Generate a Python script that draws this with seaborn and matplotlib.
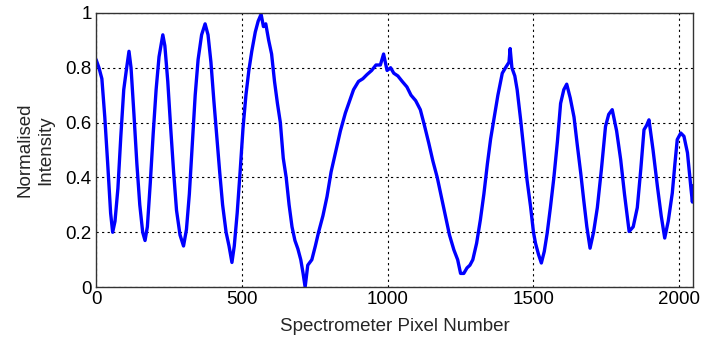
import numpy as np
import pandas as pd
import matplotlib
matplotlib.use('Agg')
import matplotlib.pyplot as plt
import seaborn as sns

# values
pixel = [0, 10, 20, 30, 40, 50, 57, 65, 75, 85, 95, 105, 113, 120, 130, 140, 150, 160, 168, 176,
         186, 196, 206, 216, 229, 236, 246, 256, 266, 276, 288, 300, 310, 320, 330, 340, 350, 362, 374, 384,
         394, 404, 414, 424, 434, 446, 456, 466, 474, 484, 494, 504, 514, 524, 534, 546, 556, 566, 574, 582,
         592, 602, 612, 622, 632, 642, 652, 662, 672, 682, 692, 702, 710, 717, 726, 740, 752, 763, 778, 792,
         806, 821, 838, 855, 870, 883, 900, 915, 929, 945, 960, 975, 986, 998, 1010, 1021, 1035, 1050, 1066, 1080,
         1096, 1112, 1126, 1141, 1155, 1170, 1184, 1198, 1212, 1227, 1240, 1250, 1261, 1272, 1282, 1292, 1305, 1318, 1330, 1342,
         1353, 1364, 1378, 1393, 1404, 1416, 1420, 1426, 1436, 1444, 1456, 1467, 1478, 1490, 1500, 1507, 1517, 1527, 1537, 1547,
         1558, 1570, 1582, 1593, 1604, 1614, 1626, 1639, 1650, 1662, 1672, 1683, 1694, 1706, 1719, 1733, 1747, 1758, 1770, 1785,
         1799, 1812, 1828, 1842, 1856, 1868, 1879, 1888, 1896, 1910, 1925, 1938, 1950, 1962, 1976, 1985, 1993, 2005, 2016, 2028,
         2040, 2045, 2048]
intensity = [0.83, 0.80, 0.76, 0.62, 0.45, 0.27, 0.20, 0.24, 0.36, 0.55, 0.72, 0.80, 0.86, 0.80, 0.63, 0.45, 0.30, 0.20, 0.17, 0.22,
             0.38, 0.56, 0.72, 0.84, 0.92, 0.88, 0.75, 0.58, 0.42, 0.28, 0.19, 0.15, 0.21, 0.34, 0.52, 0.70, 0.83, 0.92, 0.96, 0.92,
             0.82, 0.68, 0.55, 0.42, 0.30, 0.20, 0.15, 0.09, 0.15, 0.27, 0.42, 0.58, 0.70, 0.79, 0.86, 0.93, 0.97, 0.995, 0.95, 0.96,
             0.90, 0.85, 0.75, 0.67, 0.60, 0.47, 0.40, 0.30, 0.22, 0.17, 0.14, 0.10, 0.05, 0.00, 0.08, 0.10, 0.15, 0.20, 0.26, 0.33,
             0.42, 0.49, 0.57, 0.635, 0.68, 0.72, 0.75, 0.76, 0.775, 0.79, 0.81, 0.81, 0.85, 0.79, 0.80, 0.78, 0.77, 0.75, 0.73, 0.70,
             0.68, 0.647, 0.59, 0.525, 0.46, 0.40, 0.33, 0.26, 0.19, 0.136, 0.10, 0.05, 0.05, 0.07, 0.08, 0.10, 0.16, 0.246, 0.34, 0.45,
             0.54, 0.61, 0.70, 0.78, 0.80, 0.82, 0.87, 0.80, 0.77, 0.72, 0.61, 0.50, 0.39, 0.294, 0.20, 0.16, 0.12, 0.088, 0.13, 0.197,
             0.29, 0.40, 0.53, 0.67, 0.72, 0.74, 0.69, 0.62, 0.52, 0.416, 0.32, 0.22, 0.142, 0.20, 0.29, 0.43, 0.586, 0.63, 0.647, 0.57,
             0.465, 0.34, 0.203, 0.22, 0.29, 0.43, 0.574, 0.59, 0.61, 0.50, 0.367, 0.26, 0.179, 0.24, 0.343, 0.45, 0.538, 0.562, 0.55, 0.49,
             0.36, 0.31, 0.37]
x_ticks = [0, 500, 1000, 1500, 2000]
y_ticks = [0, 0.2, 0.4, 0.6, 0.8, 1]
y_tick_labels = ['0', '0.2', '0.4', '0.6', '0.8', '1']

df = pd.DataFrame({'pixel': pixel, 'intensity': intensity})

sns.set_theme(style='white')
plt.rcParams['font.family'] = ['Liberation Sans', 'DejaVu Sans']

fig = plt.figure(figsize=(7.01, 3.39), dpi=100)
ax = fig.add_axes([0.137, 0.153, 0.852, 0.809])
sns.lineplot(data=df, x='pixel', y='intensity', color='#0000ff', linewidth=2.4, ax=ax)

ax.set_xlim(0, 2048)
ax.set_ylim(0, 1)
ax.set_xticks(x_ticks)
ax.set_yticks(y_ticks)
ax.set_yticklabels(y_tick_labels)
ax.grid(True, color='black', linestyle=(0, (2, 3)), linewidth=0.8)
ax.tick_params(direction='in', length=4, labelsize=13.5, colors='black', pad=3)
for s in ax.spines.values():
    s.set_color('#333333')
    s.set_linewidth(1.0)
ax.set_xlabel('Spectrometer Pixel Number', fontsize=13.5, labelpad=7)
ax.set_ylabel('Normalised\nIntensity', fontsize=13.5, labelpad=8, linespacing=1.3)

fig.savefig('out.png', dpi=100)
